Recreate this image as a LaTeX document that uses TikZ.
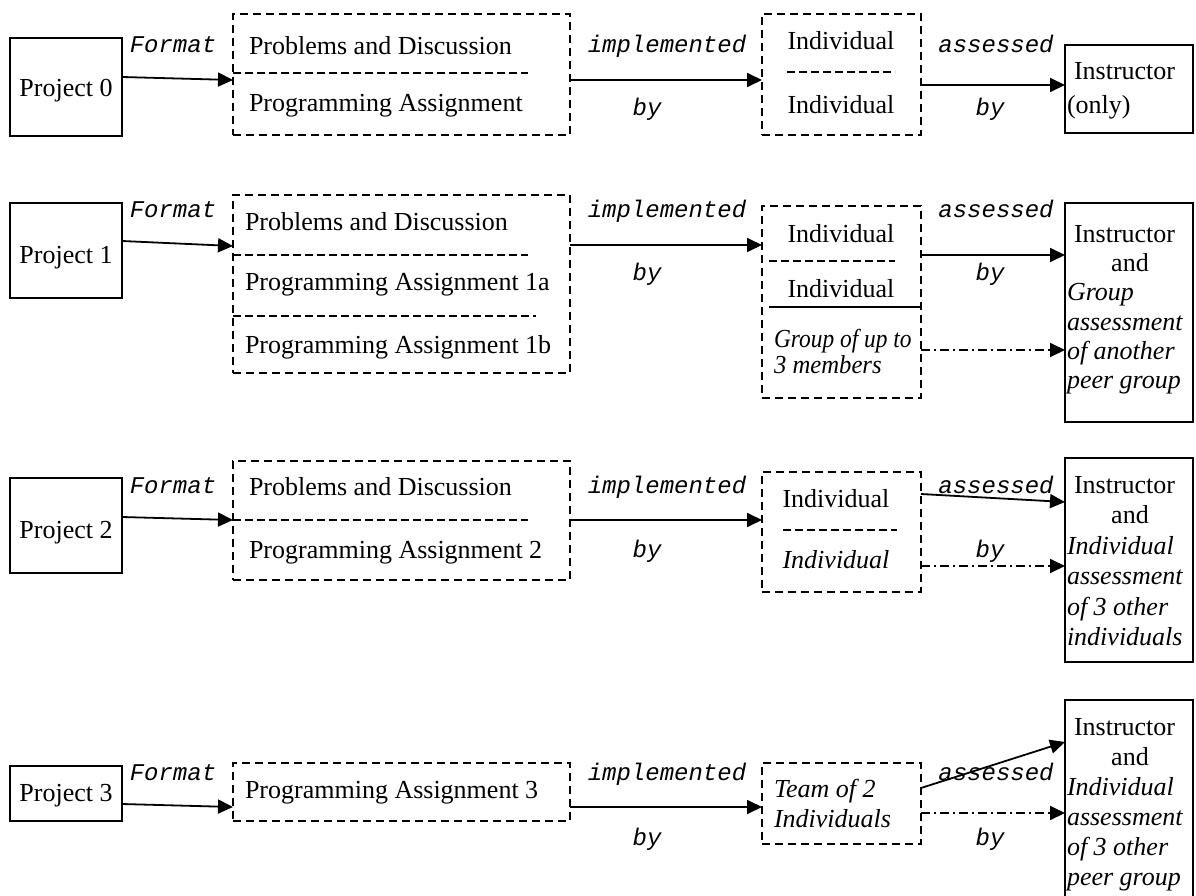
\documentclass[tikz,border=0pt]{standalone}
\usepackage{fontspec}
\setmainfont{Liberation Serif}
\newfontfamily\lblfont{Liberation Mono}
\usetikzlibrary{arrows.meta,calc}
\begin{document}
\begin{tikzpicture}[x=1pt,y=-1pt,
  every node/.style={inner sep=0pt, outer sep=0pt},
  solidbox/.style={draw, line width=1.8pt, rectangle},
  dashbox/.style={draw, line width=1.8pt, rectangle, dash pattern=on 8pt off 5pt},
  txt/.style={font=\fontsize{26}{30}\selectfont},
  itxt/.style={font=\fontsize{26}{30}\selectfont\itshape},
  lbl/.style={font=\fontsize{24}{26}\selectfont\lblfont\itshape},
  arr/.style={line width=1.8pt, -{Triangle[length=15pt,width=14pt]}},
  dd/.style={arr, dash pattern=on 9pt off 4pt on 2pt off 4pt},
  sep/.style={line width=1.6pt, dash pattern=on 8pt off 4pt},
  solidsep/.style={line width=1.8pt}]
\clip (0,0) rectangle (1196,896);
\fill[white] (0,0) rectangle (1196,896);

% ---------- Row 0 ----------
\node[solidbox, minimum width=112.4pt, minimum height=98pt] (P0) at (65.8,87) {};
\node[dashbox, minimum width=337pt, minimum height=121pt] (D0) at (401.5,74.5) {};
\node[dashbox, minimum width=159pt, minimum height=121pt] (I0) at (841.5,74.5) {};
\node[solidbox, minimum width=128pt, minimum height=88pt] (J0) at (1129,89) {};

\node[txt, anchor=base] (p0t) at (66,97) {Project 0};
\node[lbl, anchor=base] (f0) at (173,53) {Format};
\node[txt, anchor=base west] (d0a) at (249,55) {Problems and Discussion};
\node[txt, anchor=base west] (d0b) at (249,112) {Programming Assignment};
\node[lbl, anchor=base] (m0) at (667,53) {implemented};
\node[lbl, anchor=base] (b0) at (647,116) {by};
\node[txt, anchor=base] (i0a) at (841,50) {Individual};
\node[txt, anchor=base] (i0b) at (841,114) {Individual};
\node[lbl, anchor=base] (a0) at (996,53) {assessed};
\node[lbl, anchor=base] (c0) at (990,116) {by};
\node[txt, anchor=base west] (j0a) at (1074,80) {Instructor};
\node[txt, anchor=base west] (j0b) at (1067,114) {(only)};

\draw[sep] ($(D0.north west)+(0,59)$) -- ($(D0.north west)+(295,59)$);
\draw[sep] ($(I0.north west)+(25,58)$) -- ($(I0.north west)+(133,58)$);

\draw[arr] ($(P0.north east)+(0,39)$) -- ($(D0.north west)+(0,66)$);
\draw[arr] ($(D0.north east)+(0,66)$) -- ($(I0.north west)+(0,66)$);
\draw[arr] ($(I0.north east)+(0,71)$) -- ($(J0.north west)+(0,40)$);

% ---------- Row 1 ----------
\node[solidbox, minimum width=112.4pt, minimum height=95pt] (P1) at (65.8,250.5) {};
\node[dashbox, minimum width=337pt, minimum height=178pt] (D1) at (401.5,284) {};
\node[dashbox, minimum width=159pt, minimum height=192pt] (I1) at (841.5,302) {};
\node[solidbox, minimum width=128pt, minimum height=219pt] (J1) at (1129,312.5) {};

\node[txt, anchor=base] (p1t) at (66,263) {Project 1};
\node[lbl, anchor=base] (f1) at (173,217) {Format};
\node[txt, anchor=base west] (d1a) at (245,230) {Problems and Discussion};
\node[txt, anchor=base west] (d1b) at (245,290) {Programming Assignment 1a};
\node[txt, anchor=base west] (d1c) at (245,353) {Programming Assignment 1b};
\node[lbl, anchor=base] (m1) at (667,217) {implemented};
\node[lbl, anchor=base] (b1) at (647,280) {by};
\node[txt, anchor=base] (i1a) at (841,242) {Individual};
\node[txt, anchor=base] (i1b) at (841,297) {Individual};
\node[itxt, anchor=base west] (i1c) at (774,347) {\scalebox{0.9}[1]{Group of up to}};
\node[itxt, anchor=base west] (i1d) at (774,373) {\scalebox{0.95}[1]{3 members}};
\node[lbl, anchor=base] (a1) at (996,217) {assessed};
\node[lbl, anchor=base] (c1) at (990,280) {by};
\node[txt, anchor=base west] (j1a) at (1074,242) {Instructor};
\node[txt, anchor=base] (j1b) at (1130,271) {and};
\node[itxt, anchor=base west] (j1c) at (1067,300) {Group};
\node[itxt, anchor=base west] (j1d) at (1067,330) {assessment};
\node[itxt, anchor=base west] (j1e) at (1067,359) {of another};
\node[itxt, anchor=base west] (j1f) at (1067,388) {peer group};

\draw[sep] ($(D1.north west)+(0,60)$) -- ($(D1.north west)+(295,60)$);
\draw[sep] ($(D1.north west)+(0,121)$) -- ($(D1.north west)+(303,121)$);
\draw[sep] ($(I1.north west)+(7,55)$) -- ($(I1.north west)+(133,55)$);
\draw[solidsep] ($(I1.north west)+(7,101)$) -- ($(I1.north east)+(0,101)$);

\draw[arr] ($(P1.north east)+(0,38)$) -- ($(D1.north west)+(0,51)$);
\draw[arr] ($(D1.north east)+(0,50)$) -- ($(I1.north west)+(0,39)$);
\draw[arr] ($(I1.north east)+(0,49)$) -- ($(J1.north west)+(0,52)$);
\draw[dd] ($(I1.north east)+(0,144)$) -- ($(J1.north west)+(0,147)$);

% ---------- Row 2 ----------
\node[solidbox, minimum width=112.4pt, minimum height=95pt] (P2) at (65.8,525.5) {};
\node[dashbox, minimum width=337pt, minimum height=119pt] (D2) at (401.5,520.5) {};
\node[dashbox, minimum width=159pt, minimum height=120pt] (I2) at (841.5,532) {};
\node[solidbox, minimum width=128pt, minimum height=204pt] (J2) at (1129,560) {};

\node[txt, anchor=base] (p2t) at (66,538) {Project 2};
\node[lbl, anchor=base] (f2) at (173,493) {Format};
\node[txt, anchor=base west] (d2a) at (249,495) {Problems and Discussion};
\node[txt, anchor=base west] (d2b) at (249,558) {Programming Assignment 2};
\node[lbl, anchor=base] (m2) at (667,493) {implemented};
\node[lbl, anchor=base] (b2) at (647,557) {by};
\node[txt, anchor=base] (i2a) at (836,507) {Individual};
\node[itxt, anchor=base] (i2b) at (836,568) {Individual};
\node[lbl, anchor=base] (a2) at (996,493) {assessed};
\node[lbl, anchor=base] (c2) at (990,557) {by};
\node[txt, anchor=base west] (j2a) at (1074,493) {Instructor};
\node[txt, anchor=base] (j2b) at (1130,523.5) {and};
\node[itxt, anchor=base west] (j2c) at (1067,554) {Individual};
\node[itxt, anchor=base west] (j2d) at (1067,584.5) {assessment};
\node[itxt, anchor=base west] (j2e) at (1067,615) {of 3 other};
\node[itxt, anchor=base west] (j2f) at (1067,645.5) {individuals};

\draw[sep] ($(D2.north west)+(0,59)$) -- ($(D2.north west)+(295,59)$);
\draw[sep] ($(I2.north west)+(21,58)$) -- ($(I2.north west)+(135,58)$);

\draw[arr] ($(P2.north east)+(0,39)$) -- ($(D2.north west)+(0,59)$);
\draw[arr] ($(D2.north east)+(0,59)$) -- ($(I2.north west)+(0,48)$);
\draw[arr] ($(I2.north east)+(0,22)$) -- ($(J2.north west)+(0,44)$);
\draw[dd] ($(I2.north east)+(0,94)$) -- ($(J2.north west)+(0,108)$);

% ---------- Row 3 ----------
\node[solidbox, minimum width=112.4pt, minimum height=55pt] (P3) at (65.8,793.5) {};
\node[dashbox, minimum width=337pt, minimum height=58pt] (D3) at (401.5,792) {};
\node[dashbox, minimum width=159pt, minimum height=81pt] (I3) at (841.5,803.5) {};
\node[solidbox, minimum width=128pt, minimum height=220pt] (J3) at (1129,810) {};

\node[txt, anchor=base] (p3t) at (66,801) {Project 3};
\node[lbl, anchor=base] (f3) at (173,780) {Format};
\node[txt, anchor=base west] (d3a) at (245,798) {Programming Assignment 3};
\node[lbl, anchor=base] (m3) at (667,780) {implemented};
\node[lbl, anchor=base] (b3) at (647,845) {by};
\node[itxt, anchor=base west] (i3a) at (774,797) {Team of 2};
\node[itxt, anchor=base west] (i3b) at (774,827) {Individuals};
\node[lbl, anchor=base] (a3) at (996,780) {assessed};
\node[lbl, anchor=base] (c3) at (990,845) {by};
\node[txt, anchor=base west] (j3a) at (1074,735) {Instructor};
\node[txt, anchor=base] (j3b) at (1130,765) {and};
\node[itxt, anchor=base west] (j3c) at (1067,795) {Individual};
\node[itxt, anchor=base west] (j3d) at (1067,825) {assessment};
\node[itxt, anchor=base west] (j3e) at (1067,855) {of 3 other};
\node[itxt, anchor=base west] (j3f) at (1067,885) {peer group};

\draw[arr] ($(P3.north east)+(0,38)$) -- ($(D3.north west)+(0,44)$);
\draw[arr] ($(D3.north east)+(0,44)$) -- ($(I3.north west)+(0,44)$);
\draw[arr] ($(I3.north east)+(0,25)$) -- ($(J3.north west)+(0,42)$);
\draw[dd] ($(I3.north east)+(0,50)$) -- ($(J3.north west)+(0,113)$);
\end{tikzpicture}
\end{document}
